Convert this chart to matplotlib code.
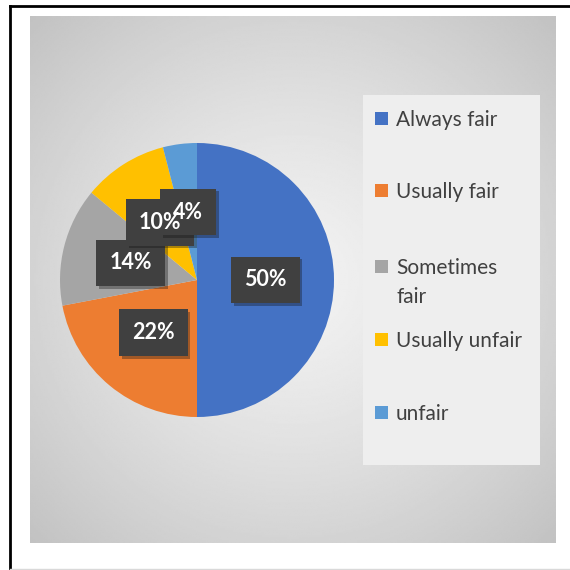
import numpy as np
import matplotlib.pyplot as plt
import matplotlib.patheffects as pe
from matplotlib.patches import Rectangle
from matplotlib.lines import Line2D

# data
labels = ['Always fair', 'Usually fair', 'Sometimes\nfair', 'Usually unfair', 'unfair']
values = [50, 22, 14, 10, 4]
colors = ['#4472C4', '#ED7D31', '#A5A5A5', '#FFC000', '#5B9BD5']

plt.rcParams['font.family'] = ['Lato', 'DejaVu Sans']

W = 570.0
fig = plt.figure(figsize=(5.7, 5.7), dpi=100)
fig.patch.set_facecolor('white')

# gray panel with radial gradient
bg = fig.add_axes([30 / W, 1 - 543 / W, 526 / W, 527 / W])
yy, xx = np.mgrid[-1:1:300j, -1:1:300j]
rr = np.sqrt(xx ** 2 + yy ** 2) / np.sqrt(2)
shade = 0.95 - 0.19 * rr ** 1.3
bg.imshow(shade, cmap='gray', vmin=0, vmax=1, aspect='auto', interpolation='bilinear')
bg.set_axis_off()

# legend panel
fig.add_artist(Rectangle((363 / W, 1 - 465 / W), 177 / W, 370 / W,
                         transform=fig.transFigure, facecolor='#eeeeee',
                         edgecolor='none', zorder=1))

# pie
ax = fig.add_axes([60 / W, 1 - 417 / W, 274 / W, 274 / W])
wedges, texts, autotexts = ax.pie(values, colors=colors, startangle=90, counterclock=False,
                                  radius=1, autopct='%1.0f%%', pctdistance=0.5,
                                  wedgeprops=dict(linewidth=0))
# boxes first (text hidden), then the label texts on top of all boxes
for t in autotexts:
    x, y = t.get_position()
    ax.text(x, y, t.get_text(), fontsize=15.5, fontweight='bold', color='none',
            ha='center', va='center', zorder=3,
            bbox=dict(boxstyle='square,pad=0.6', facecolor='#404040', edgecolor='none',
                      path_effects=[pe.SimplePatchShadow(offset=(2, -2), alpha=0.35),
                                    pe.Normal()]))
    t.set_color('white')
    t.set_fontsize(15.5)
    t.set_fontweight('bold')
    t.set_zorder(4)
ax.set_xlim(-1, 1)
ax.set_ylim(-1, 1)
ax.set_aspect('equal')
ax.set_axis_off()

# legend, laid out by hand (row centres in pixels)
row_y = [118, 190, 266, 339, 412]
for lab, col, ry in zip(labels, colors, row_y):
    fig.add_artist(Rectangle((375 / W, 1 - (ry + 6.5) / W), 13 / W, 13 / W,
                             transform=fig.transFigure, facecolor=col,
                             edgecolor='none', zorder=5))
    fig.text(396 / W, 1 - (ry - 8) / W, lab, fontsize=15, color='#404040',
             ha='left', va='top', linespacing=1.55, zorder=5)

# outer border lines
fig.add_artist(Line2D([10 / W, 1], [1 - 6 / W, 1 - 6 / W], color='black', linewidth=2,
                      transform=fig.transFigure))
fig.add_artist(Line2D([10 / W, 10 / W], [0, 1 - 6 / W], color='black', linewidth=2,
                      transform=fig.transFigure))
fig.add_artist(Line2D([10 / W, 1], [1.5 / W, 1.5 / W], color='#d9d9d9', linewidth=1,
                      transform=fig.transFigure))

plt.savefig('out.png', dpi=100)
